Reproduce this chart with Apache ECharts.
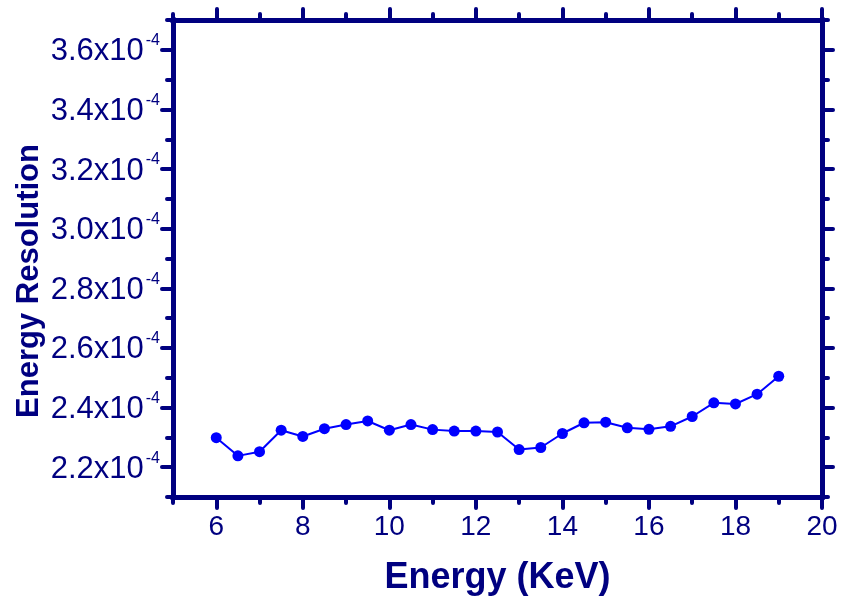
<!DOCTYPE html>
<html>
<head>
<meta charset="utf-8">
<script src="https://cdn.jsdelivr.net/npm/echarts@6/dist/echarts.min.js"></script>
<style>
  html, body { margin: 0; padding: 0; background: #fff; }
  #chart { width: 850px; height: 604px; }
</style>
</head>
<body>
<div id="chart"></div>
<script>
// Photon energy (keV) of each measurement
const energy = [6, 6.5, 7, 7.5, 8, 8.5, 9, 9.5, 10, 10.5, 11, 11.5, 12, 12.5,
                13, 13.5, 14, 14.5, 15, 15.5, 16, 16.5, 17, 17.5, 18, 18.5, 19];
// Relative energy resolution at each energy
const resolution = [2.299e-4, 2.238e-4, 2.252e-4, 2.324e-4, 2.303e-4, 2.329e-4, 2.343e-4,
                    2.355e-4, 2.324e-4, 2.343e-4, 2.326e-4, 2.321e-4, 2.321e-4, 2.318e-4,
                    2.259e-4, 2.266e-4, 2.313e-4, 2.349e-4, 2.351e-4, 2.332e-4, 2.327e-4,
                    2.337e-4, 2.370e-4, 2.416e-4, 2.412e-4, 2.445e-4, 2.505e-4];
// Labelled (major) tick positions
const xMajorTicks = [6, 8, 10, 12, 14, 16, 18, 20];
const yMajorTicks = [2.2e-4, 2.4e-4, 2.6e-4, 2.8e-4, 3.0e-4, 3.2e-4, 3.4e-4, 3.6e-4];
const xTitle = 'Energy (KeV)';
const yTitle = 'Energy Resolution';

const NAVY = '#000080';
const FONT = '"Liberation Sans", Arial, Helvetica, sans-serif';
const X_MIN = 5, X_MAX = 20, Y_MIN = 2.1e-4, Y_MAX = 3.7e-4;
const tickLine = { color: NAVY, width: 4, cap: 'round' };

function majorAxis(extra) {
  return Object.assign({
    type: 'value',
    axisLine: { show: true, lineStyle: { color: NAVY, width: 5, cap: 'square' } },
    axisLabel: { show: false },
    splitLine: { show: false }
  }, extra);
}
function minorAxis(extra) {
  return Object.assign({
    type: 'value',
    axisLine: { show: false },
    axisTick: { show: true, inside: false, length: 6, lineStyle: tickLine },
    axisLabel: { show: false },
    splitLine: { show: false }
  }, extra);
}

const xAxes = [
  majorAxis({
    position: 'bottom', min: X_MIN, max: X_MAX,
    axisTick: { show: true, length: 11, customValues: xMajorTicks, lineStyle: tickLine },
    axisLabel: { show: true, customValues: xMajorTicks, margin: 16,
                 color: NAVY, fontSize: 28, fontFamily: FONT },
    name: xTitle, nameLocation: 'middle', nameGap: 63,
    nameTextStyle: { color: NAVY, fontSize: 36, fontWeight: 'bold', fontFamily: FONT }
  }),
  minorAxis({ position: 'bottom', min: X_MIN, max: X_MAX, interval: 1 }),
  majorAxis({
    position: 'top', min: X_MIN, max: X_MAX,
    axisTick: { show: true, length: 11, customValues: xMajorTicks, lineStyle: tickLine }
  }),
  minorAxis({ position: 'top', min: X_MIN, max: X_MAX, interval: 1 })
];

const yAxes = [
  majorAxis({
    position: 'left', min: Y_MIN, max: Y_MAX,
    axisTick: { show: true, length: 11, customValues: yMajorTicks, lineStyle: tickLine },
    axisLabel: {
      show: true, customValues: yMajorTicks, margin: 13,
      formatter: v => '{m|' + (v * 1e4).toFixed(1) + 'x10}{s|-4}',
      rich: {
        m: { color: NAVY, fontSize: 31, fontFamily: FONT, lineHeight: 34, padding: [4, 0, 0, 0] },
        s: { color: NAVY, fontSize: 16, fontFamily: FONT, verticalAlign: 'top',
             lineHeight: 16, padding: [0, 0, 0, 2] }
      }
    }
  }),
  minorAxis({ position: 'left', min: Y_MIN, max: Y_MAX, interval: 0.1e-4 }),
  majorAxis({
    position: 'right', min: Y_MIN, max: Y_MAX,
    axisTick: { show: true, length: 11, customValues: yMajorTicks, lineStyle: tickLine }
  }),
  minorAxis({ position: 'right', min: Y_MIN, max: Y_MAX, interval: 0.1e-4 })
];

const chart = echarts.init(document.getElementById('chart'), null, { renderer: 'canvas' });
chart.setOption({
  backgroundColor: '#ffffff',
  animation: false,
  grid: { left: 173, right: 28, top: 20, bottom: 107, containLabel: false },
  xAxis: xAxes,
  yAxis: yAxes,
  graphic: [{
    type: 'text',
    x: 29, y: 281,
    rotation: Math.PI / 2,
    style: {
      text: yTitle,
      fill: NAVY,
      font: 'bold 31px ' + FONT,
      textAlign: 'center',
      textVerticalAlign: 'middle'
    }
  }],
  series: [{
    type: 'line',
    xAxisIndex: 0,
    yAxisIndex: 0,
    data: energy.map((e, i) => [e, resolution[i]]),
    symbol: 'circle',
    symbolSize: 11,
    lineStyle: { color: '#0000ff', width: 2 },
    itemStyle: { color: '#0000ff' },
    z: 5
  }]
});
</script>
</body>
</html>
